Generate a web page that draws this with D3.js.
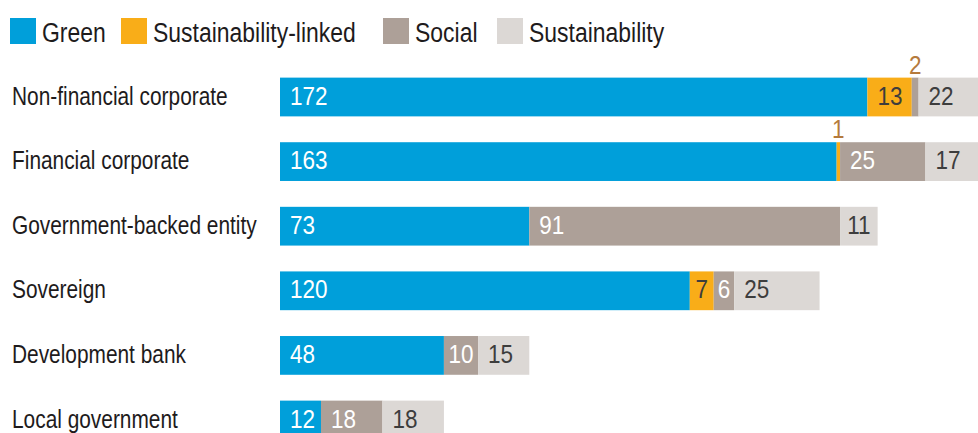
<!DOCTYPE html>
<html>
<head>
<meta charset="utf-8">
<script src="https://cdn.jsdelivr.net/npm/d3@7"></script>
<style>
  html, body { margin: 0; padding: 0; background: #fff; overflow: hidden; }
  svg { display: block; font-family: "Liberation Sans", Arial, Helvetica, sans-serif; }
</style>
</head>
<body>
<svg id="chart" width="978" height="433"></svg>
<script>
const categories = ["Non-financial corporate", "Financial corporate", "Government-backed entity", "Sovereign", "Development bank", "Local government"];
const seriesNames = ["Green", "Sustainability-linked", "Social", "Sustainability"];
const green = [172, 163, 73, 120, 48, 12];
const sustainabilityLinked = [13, 1, 0, 7, 0, 0];
const social = [2, 25, 91, 6, 10, 18];
const sustainability = [22, 17, 11, 25, 15, 18];

const colors = ["#009fda", "#f9ad18", "#ada098", "#dcd8d5"];
const textColors = ["#ffffff", "#3d3d3d", "#ffffff", "#3d3d3d"];
const smallColor = "#b57a3c";

const svg = d3.select("#chart");

const x = d3.scaleLinear().domain([0, 200]).range([280, 280 + 200 * 3.415]);
const y = d3.scaleBand().domain(categories).range([64.7, 64.7 + 6 * 64.6]).paddingInner(0.4).paddingOuter(0.2);

const table = categories.map((c, i) => ({
  cat: c,
  vals: [green[i], sustainabilityLinked[i], social[i], sustainability[i]]
}));

// condensed text helper: horizontal squeeze of a regular sans
function ctext(g, tx, ty, str, size, fill, sx, anchor) {
  return g.append("text")
    .attr("transform", `translate(${tx},${ty}) scale(${sx},1)`)
    .attr("text-anchor", anchor || "start")
    .attr("font-size", size)
    .attr("fill", fill)
    .text(str);
}

// Legend
const legendX = [10, 121, 383, 497];
const leg = svg.append("g");
seriesNames.forEach((n, i) => {
  leg.append("rect").attr("x", legendX[i]).attr("y", 18).attr("width", 26).attr("height", 26).attr("fill", colors[i]);
  ctext(leg, legendX[i] + 32, 41.5, n, 27, "#1e1b1c", 0.85);
});

// Category labels
const lab = svg.append("g");
categories.forEach(c => {
  ctext(lab, 12, y(c) + y.bandwidth() / 2 + 7.5, c, 25, "#1e1b1c", 0.835);
});

// Bars
const rows = svg.append("g").selectAll("g").data(table).join("g");
rows.each(function(row) {
  const g = d3.select(this);
  let cum = 0;
  row.vals.forEach((v, si) => {
    if (v <= 0) return;
    const x0 = x(cum), x1 = x(cum + v);
    cum += v;
    const top = y(row.cat), h = y.bandwidth();
    g.append("rect").attr("x", x0).attr("y", top).attr("width", x1 - x0).attr("height", h).attr("fill", colors[si]);
    const w = x1 - x0;
    const ty = top + h / 2 + 7.5;
    if (w < 12) {
      ctext(g, (x0 + x1) / 2, top - 4, v, 25, smallColor, 0.9, "middle");
    } else if (w < 40) {
      ctext(g, (x0 + x1) / 2, ty, v, 25, textColors[si], 0.9, "middle");
    } else {
      ctext(g, x0 + 10, ty, v, 25, textColors[si], 0.9);
    }
  });
});
</script>
</body>
</html>
